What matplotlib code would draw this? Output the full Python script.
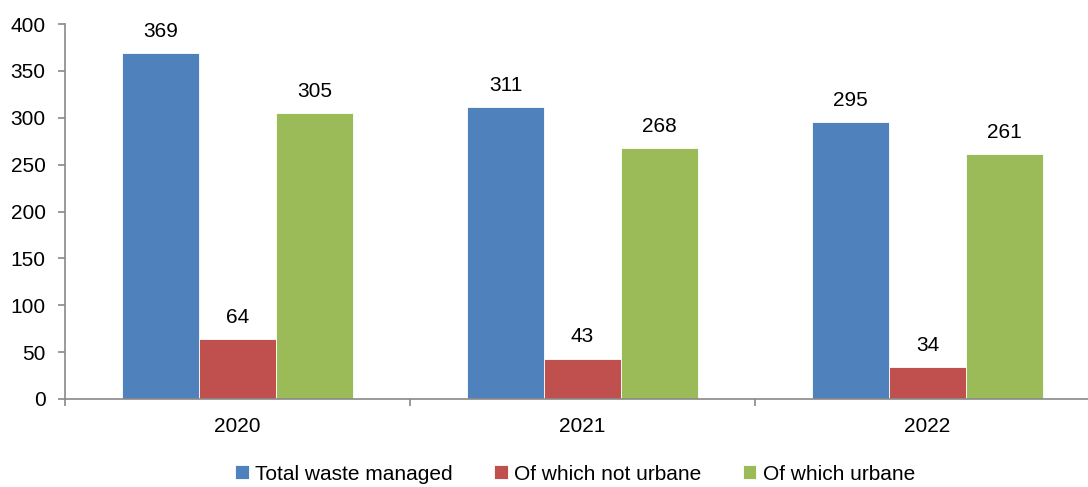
import numpy as np
import matplotlib.pyplot as plt

plt.rcParams['font.family'] = ['Liberation Sans', 'DejaVu Sans']

years = ['2020', '2021', '2022']
total = [369, 311, 295]
not_urban = [64, 43, 34]
urban = [305, 268, 261]
labels = ['Total waste managed', 'Of which not urbane', 'Of which urbane']
colors = ['#4F81BD', '#C0504D', '#9BBB59']

fig = plt.figure(figsize=(10.88, 4.87), dpi=100)
# axes: x from 65 px to 1100 px (right edge off the image), y from 399 to 24
ax = fig.add_axes([65/1088, 1-399/487, 1035/1088, 375/487])

x = np.arange(len(years))
w = 0.223
for i, (vals, lab, col) in enumerate(zip([total, not_urban, urban], labels, colors)):
    bars = ax.bar(x + (i-1)*w, vals, w, color=col, label=lab,
                  edgecolor='white', linewidth=0.6)
    for b, v in zip(bars, vals):
        ax.text(b.get_x() + b.get_width()/2, v + 13, str(v),
                ha='center', va='bottom', fontsize=15)

ax.set_xlim(-0.5, 2.5)
ax.set_ylim(0, 400)
ax.set_yticks(range(0, 401, 50))
ax.set_xticks(x)
ax.set_xticklabels(years)
ax.set_xticks([-0.5, 0.5, 1.5, 2.5], minor=True)
ax.tick_params(axis='x', which='major', length=0, pad=13, labelsize=15)
ax.tick_params(axis='x', which='minor', length=5, direction='out',
               color='#898989', width=1.2)
ax.tick_params(axis='y', length=5, color='#898989', width=1.2,
               labelsize=15, pad=9)

for s in ['top', 'right']:
    ax.spines[s].set_visible(False)
for s in ['left', 'bottom']:
    ax.spines[s].set_color('#898989')
    ax.spines[s].set_linewidth(1.2)

fig.legend(loc='center', bbox_to_anchor=(575/1088, 1-474/487), ncol=3,
           frameon=False, fontsize=15, handlelength=0.65, handleheight=0.65,
           handletextpad=0.3, columnspacing=2.0)

fig.savefig('out.png', dpi=100)
